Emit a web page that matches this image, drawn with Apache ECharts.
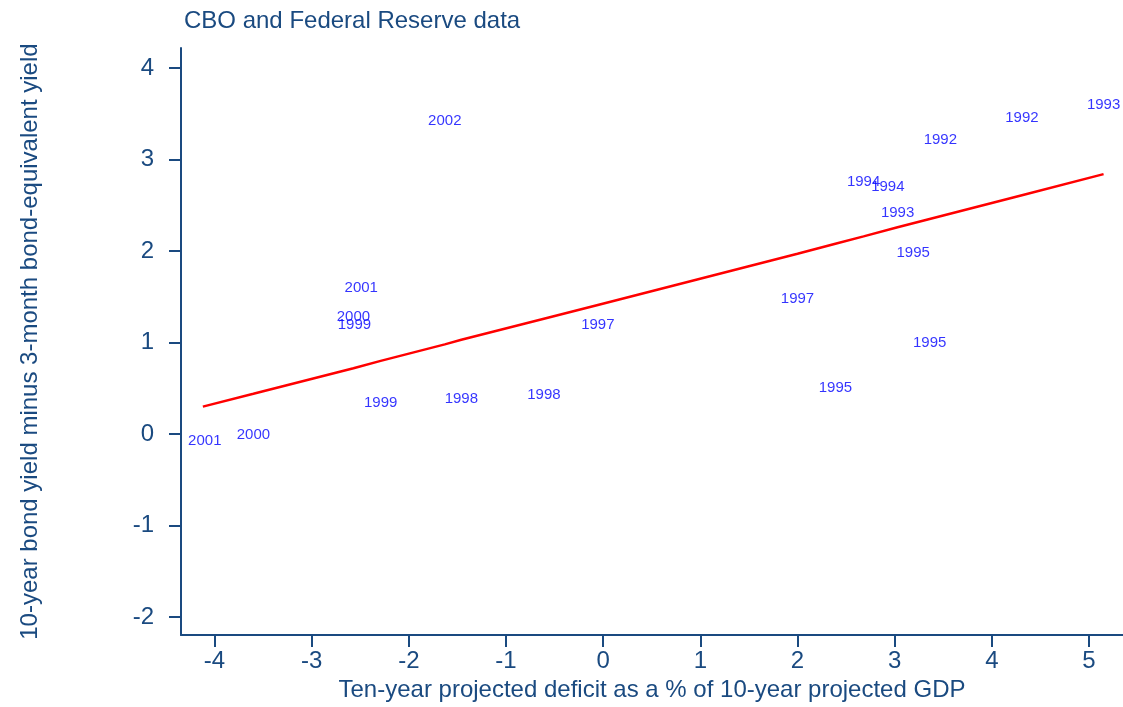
<!DOCTYPE html>
<html>
<head>
<meta charset="utf-8">
<script src="https://cdn.jsdelivr.net/npm/echarts@6/dist/echarts.min.js"></script>
<style>
  html, body { margin: 0; padding: 0; background: #fff; }
  #chart { width: 1123px; height: 707px; }
</style>
</head>
<body>
<div id="chart"></div>
<script>
// deficit (x), yield spread (y) and year label per point
const deficitX = [-4.10, -3.60, -2.49, -2.57, -2.56, -2.29, -1.46, -0.61, -0.055, -1.63,
                  2.00, 3.36, 2.39, 3.19, 3.03, 2.68, 2.93, 3.47, 4.31, 5.15]
const spreadY  = [-0.07, -0.01, 1.60, 1.28, 1.19, 0.34, 0.39, 0.43, 1.19, 3.42,
                  1.48, 1.00, 0.50, 1.98, 2.42, 2.76, 2.70, 3.21, 3.45, 3.60]
const years    = ['2001', '2000', '2001', '2000', '1999', '1999', '1998', '1998', '1997', '2002',
                  '1997', '1995', '1995', '1995', '1993', '1994', '1994', '1992', '1992', '1993']

// fitted line
const fitX = [-4.12, -3.60, -2.57, -2.29, -1.63, -1.46, -0.61, -0.055, 2.00, 2.39, 2.68, 3.03, 3.36, 3.47, 4.31, 5.15]
const fitY = [0.30, 0.44, 0.72, 0.80, 0.98, 1.03, 1.26, 1.41, 1.97, 2.08, 2.16, 2.26, 2.35, 2.38, 2.61, 2.84]

const xTicks = [-4, -3, -2, -1, 0, 1, 2, 3, 4, 5]
const yTicks = [-2, -1, 0, 1, 2, 3, 4]

const navy = '#1a4a80'
const font = 'Liberation Sans, Arial, sans-serif'

const chart = echarts.init(document.getElementById('chart'))

const axisCommon = {
  type: 'value',
  axisLine: { show: true, onZero: false, lineStyle: { color: navy, width: 2 } },
  splitLine: { show: false },
  nameLocation: 'middle',
  nameTextStyle: { color: navy, fontSize: 24, fontFamily: font }
}

chart.setOption({
  animation: false,
  title: {
    text: 'CBO and Federal Reserve data',
    left: 179,
    top: 4,
    textStyle: { color: navy, fontSize: 24, fontWeight: 'normal', fontFamily: font }
  },
  grid: { left: 181, top: 48, right: 0, bottom: 71 },
  xAxis: Object.assign({}, axisCommon, {
    min: -4.345,
    max: 5.35,
    name: 'Ten-year projected deficit as a % of 10-year projected GDP',
    nameGap: 41,
    axisTick: { show: true, length: 12, lineStyle: { color: navy, width: 2 }, customValues: xTicks },
    axisLabel: { color: navy, fontSize: 24, fontFamily: font, margin: 14, customValues: xTicks }
  }),
  yAxis: Object.assign({}, axisCommon, {
    min: -2.196,
    max: 4.218,
    name: '10-year bond yield minus 3-month bond-equivalent yield',
    nameGap: 139,
    axisTick: { show: true, length: 12, lineStyle: { color: navy, width: 2 }, customValues: yTicks },
    axisLabel: { color: navy, fontSize: 24, fontFamily: font, margin: 27, customValues: yTicks }
  }),
  series: [
    {
      type: 'line',
      data: fitX.map((x, i) => [x, fitY[i]]),
      showSymbol: false,
      lineStyle: { color: '#ff0000', width: 2.5 },
      z: 2
    },
    {
      type: 'scatter',
      data: deficitX.map((x, i) => [x, spreadY[i], years[i]]),
      symbolSize: 1,
      itemStyle: { color: 'rgba(0,0,0,0)' },
      label: {
        show: true,
        position: 'inside',
        formatter: p => p.value[2],
        color: '#0000ff',
        fontSize: 15,
        fontFamily: font
      },
      z: 3
    }
  ]
})
</script>
</body>
</html>
